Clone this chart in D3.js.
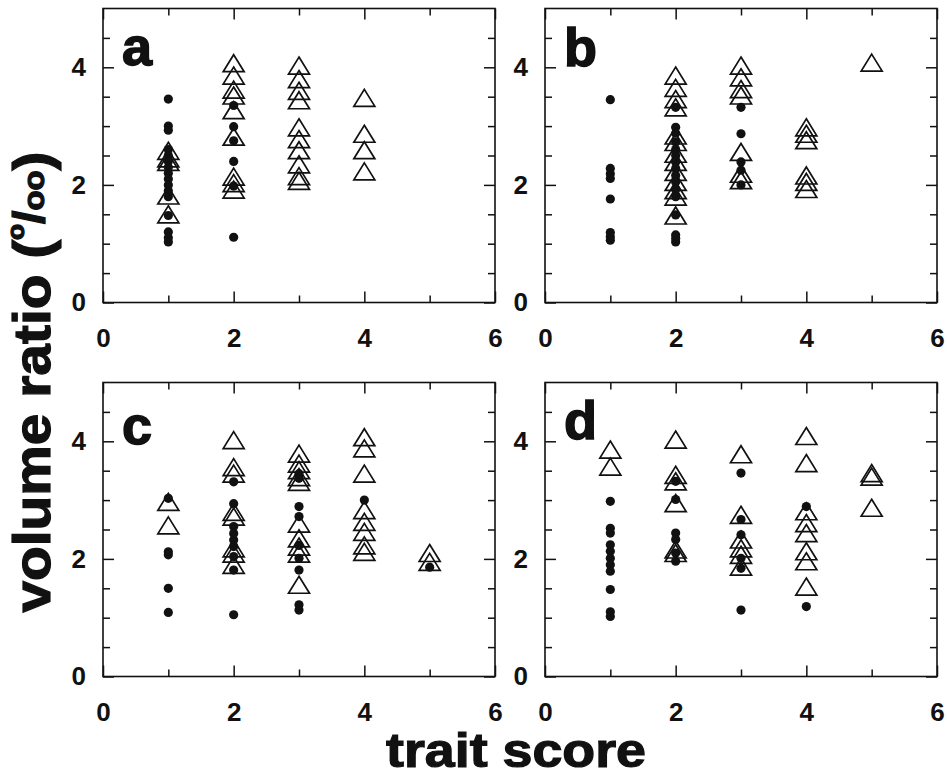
<!DOCTYPE html>
<html><head><meta charset="utf-8">
<script src="https://cdn.jsdelivr.net/npm/d3@7"></script>
<style>
html,body{margin:0;padding:0;background:#fff;}
svg{display:block;font-family:"Liberation Sans",Arial,Helvetica,sans-serif;}
</style></head>
<body>
<svg id="chart" width="947" height="776"></svg>
<script>
// ---- data (trait score, [volume ratio values]) ----
const panelLetters = ["a", "b", "c", "d"];
const xTickLabels = [0, 2, 4, 6];
const yTickLabels = [0, 2, 4];
const xMinorTicks = [1, 3, 5];
const yMinorTicks = [0.5, 1, 1.5, 2.5, 3, 3.5, 4.5];

const aDots = [
  [1, [3.46, 3.0, 2.93, 2.6, 2.5, 2.4, 2.3, 2.2, 2.1, 2.0, 1.9, 1.8, 1.48, 1.2, 1.1, 1.03]],
  [2, [3.35, 2.99, 2.75, 2.4, 1.98, 1.11]]
];
const aTris = [
  [1, [2.58, 2.45, 2.39, 1.82, 1.5]],
  [2, [4.07, 3.86, 3.62, 3.52, 3.27, 2.82, 2.14, 2.03, 1.92]],
  [3, [4.03, 3.8, 3.6, 3.44, 2.98, 2.78, 2.59, 2.35, 2.15, 2.07]],
  [4, [3.48, 2.87, 2.59, 2.23]]
];
const bDots = [
  [1, [3.45, 2.28, 2.19, 2.11, 1.76, 1.19, 1.12, 1.06]],
  [2, [3.32, 2.98, 2.88, 2.73, 2.6, 2.5, 2.39, 2.28, 2.16, 2.05, 1.92, 1.8, 1.49, 1.15, 1.09, 1.03]],
  [3, [3.32, 2.87, 2.39, 2.25, 2.0]]
];
const bTris = [
  [2, [3.86, 3.65, 3.46, 3.32, 2.84, 2.73, 2.53, 2.39, 2.22, 2.05, 1.91, 1.8, 1.48]],
  [3, [4.03, 3.83, 3.63, 3.52, 2.56, 2.19, 2.08]],
  [4, [2.98, 2.87, 2.76, 2.16, 2.05, 1.93]],
  [5, [4.08]]
];
const cDots = [
  [1, [3.03, 2.12, 2.07, 1.5, 1.09]],
  [2, [3.31, 2.94, 2.55, 2.43, 2.32, 2.21, 2.04, 1.81, 1.05]],
  [3, [3.45, 3.37, 2.89, 2.72, 2.23, 2.01, 1.81, 1.22, 1.13]],
  [4, [3.0]],
  [5, [1.86]]
];
const cTris = [
  [1, [2.97, 2.57]],
  [2, [4.02, 3.56, 3.45, 2.8, 2.72, 2.18, 2.09, 1.9]],
  [3, [3.79, 3.62, 3.51, 3.39, 3.31, 2.6, 2.35, 2.21, 2.09, 1.56]],
  [4, [4.07, 3.88, 3.45, 2.83, 2.63, 2.46, 2.23, 2.12]],
  [5, [2.1, 1.95]]
];
const dDots = [
  [1, [2.98, 2.52, 2.44, 2.24, 2.13, 2.01, 1.9, 1.79, 1.48, 1.1, 1.02]],
  [2, [3.32, 3.01, 2.44, 2.33, 2.1, 1.96]],
  [3, [3.46, 2.67, 2.41, 2.01, 1.84, 1.13]],
  [4, [2.89, 1.19]]
];
const dTris = [
  [1, [3.86, 3.57]],
  [2, [4.03, 3.43, 3.32, 2.95, 2.16, 2.1]],
  [3, [3.78, 2.75, 2.33, 2.18, 2.07, 1.87]],
  [4, [4.09, 3.63, 2.81, 2.61, 2.44, 2.13, 1.96, 1.53]],
  [5, [3.46, 3.4, 2.87]]
];

const xTitle = "trait score";

// ---- layout ----
const svg = d3.select("#chart");
const PW = 392, PH = 294;
const lefts = [103, 545];
const tops = [8.5, 382.5];
const flatten = groups => groups.flatMap(([x, vs]) => vs.map(v => [x, v]));
const panels = [
  {dots: aDots, tris: aTris, left: lefts[0], top: tops[0], lblDy: 56},
  {dots: bDots, tris: bTris, left: lefts[1], top: tops[0], lblDy: 57},
  {dots: cDots, tris: cTris, left: lefts[0], top: tops[1], lblDy: 61},
  {dots: dDots, tris: dTris, left: lefts[1], top: tops[1], lblDy: 56}
];
const triPath = "M0,-8.5L10.5,8.5L-10.5,8.5Z";

panels.forEach((p, i) => {
  const x = d3.scaleLinear().domain([0, 6]).range([p.left, p.left + PW]);
  const y = d3.scaleLinear().domain([0, 5]).range([p.top + PH, p.top]);
  const g = svg.append("g");

  // frame
  g.append("rect").attr("x", x(0)).attr("y", y(5))
    .attr("width", x(6) - x(0)).attr("height", y(0) - y(5))
    .attr("fill", "none").attr("stroke", "#111").attr("stroke-width", 1.6);

  const styleAxis = sel => {
    sel.select(".domain").remove();
    sel.selectAll(".tick line").attr("stroke", "#111").attr("stroke-width", 1.5);
    sel.selectAll(".tick text").attr("fill", "#111").attr("font-size", 26)
      .attr("font-weight", "bold")
      .attr("font-family", "'Liberation Sans', Arial, sans-serif");
  };
  // bottom
  g.append("g").attr("transform", `translate(0,${y(0)})`)
    .call(d3.axisBottom(x).tickValues(xTickLabels).tickSize(-11).tickPadding(26).tickFormat(d3.format("d")))
    .call(styleAxis);
  g.append("g").attr("transform", `translate(0,${y(0)})`)
    .call(d3.axisBottom(x).tickValues(xMinorTicks).tickSize(-7).tickFormat(""))
    .call(styleAxis);
  // top
  g.append("g").attr("transform", `translate(0,${y(5)})`)
    .call(d3.axisTop(x).tickValues(xTickLabels).tickSize(-11).tickFormat(""))
    .call(styleAxis);
  g.append("g").attr("transform", `translate(0,${y(5)})`)
    .call(d3.axisTop(x).tickValues(xMinorTicks).tickSize(-7).tickFormat(""))
    .call(styleAxis);
  // left
  g.append("g").attr("transform", `translate(${x(0)},0)`)
    .call(d3.axisLeft(y).tickValues(yTickLabels).tickSize(-11).tickPadding(17).tickFormat(d3.format("d")))
    .call(styleAxis);
  g.append("g").attr("transform", `translate(${x(0)},0)`)
    .call(d3.axisLeft(y).tickValues(yMinorTicks).tickSize(-7).tickFormat(""))
    .call(styleAxis);
  // right
  g.append("g").attr("transform", `translate(${x(6)},0)`)
    .call(d3.axisRight(y).tickValues(yTickLabels).tickSize(-11).tickFormat(""))
    .call(styleAxis);
  g.append("g").attr("transform", `translate(${x(6)},0)`)
    .call(d3.axisRight(y).tickValues(yMinorTicks).tickSize(-7).tickFormat(""))
    .call(styleAxis);

  // triangles (open)
  g.append("g").selectAll("path").data(flatten(p.tris)).join("path")
    .attr("d", triPath)
    .attr("transform", d => `translate(${x(d[0])},${y(d[1])})`)
    .attr("fill", "none").attr("stroke", "#111").attr("stroke-width", 1.7)
    .attr("stroke-linejoin", "miter");
  // filled circles
  g.append("g").selectAll("circle").data(flatten(p.dots)).join("circle")
    .attr("cx", d => x(d[0])).attr("cy", d => y(d[1])).attr("r", 4.6)
    .attr("fill", "#111");

  // panel letter
  g.append("text").attr("x", x(0) + 19).attr("y", y(5) + p.lblDy)
    .attr("font-size", 54).attr("font-weight", "bold").attr("fill", "#111")
    .attr("stroke", "#111").attr("stroke-width", 1.5)
    .text(panelLetters[i]);
});

// axis titles
svg.append("text").attr("x", 516).attr("y", 767)
  .attr("text-anchor", "middle").attr("font-size", 48).attr("font-weight", "bold")
  .attr("fill", "#111").attr("stroke", "#111").attr("stroke-width", 1.2)
  .attr("textLength", 260).attr("lengthAdjust", "spacingAndGlyphs")
  .text(xTitle);

const yt = svg.append("text")
  .attr("transform", "translate(50,382) rotate(-90)")
  .attr("text-anchor", "middle").attr("font-weight", "bold").attr("fill", "#111")
  .attr("stroke", "#111").attr("stroke-width", 1.2)
  .attr("font-size", 52).attr("textLength", 461).attr("lengthAdjust", "spacingAndGlyphs");
yt.append("tspan").text("volume ratio (");
yt.append("tspan").attr("font-size", 24).attr("dy", -26).text("o");
yt.append("tspan").attr("font-size", 44).attr("dy", 20).text("/");
yt.append("tspan").attr("font-size", 30).attr("dy", 0).text("oo");
yt.append("tspan").attr("font-size", 52).attr("dy", 6).text(")");
</script>
</body></html>
